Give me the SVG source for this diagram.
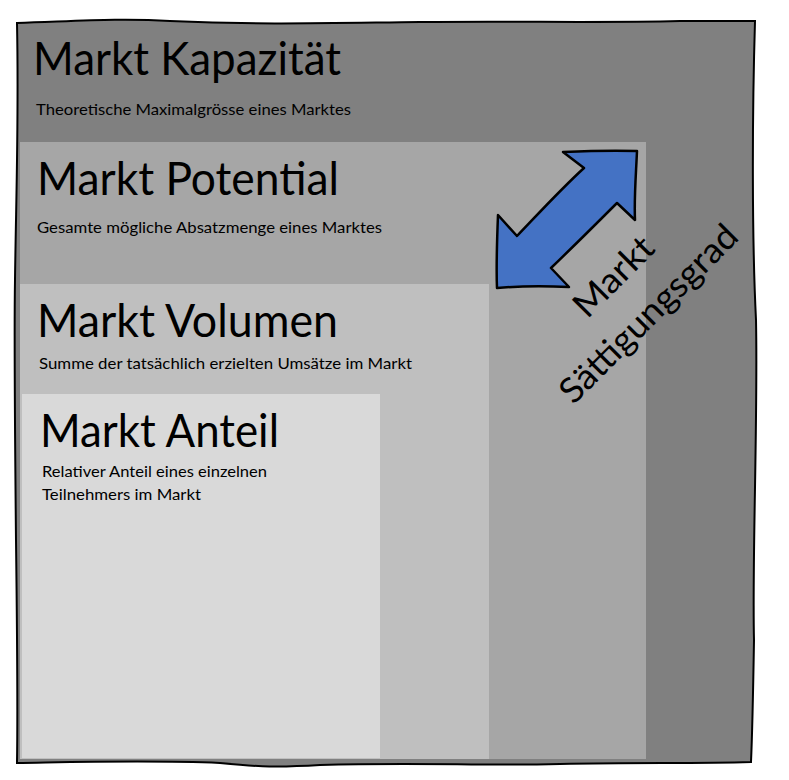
<svg xmlns="http://www.w3.org/2000/svg" width="789" height="780" viewBox="0 0 789 780">
<style>
.t{font-family:Lato,"Open Sans","Liberation Sans",sans-serif;fill:#000}
.h{font-size:46px}
.s{font-size:15px}
.r{font-size:35px}
</style>
<rect width="789" height="780" fill="#fff"/>
<g id="kapazitaet">
<path d="M17,23 C80,21 120,18 170,21 C260,25 330,23 420,22 C520,21 600,23 680,21 L755,21 C752,120 752,240 756,320 C758,420 752,560 754,640 C753,700 752,740 751,762 C690,764 640,762 560,764 C480,766 420,762 320,765 C270,768 250,766 220,763 C150,760 80,762 17,763 C18,700 17,620 16,540 C15,440 14,340 15,280 C16,200 19,120 17,23 Z" fill="#808080" stroke="#000" stroke-width="2"/>
<text class="t h" x="33" y="75" textLength="308" lengthAdjust="spacingAndGlyphs">Markt Kapazität</text>
<text class="t s" x="36" y="115" textLength="315" lengthAdjust="spacingAndGlyphs">Theoretische Maximalgrösse eines Marktes</text>
</g>
<g id="potential">
<rect x="20" y="142" width="626" height="617" fill="#a6a6a6"/>
<text class="t h" x="37" y="195" textLength="302" lengthAdjust="spacingAndGlyphs">Markt Potential</text>
<text class="t s" x="37" y="233" textLength="345" lengthAdjust="spacingAndGlyphs">Gesamte mögliche Absatzmenge eines Marktes</text>
</g>
<g id="volumen">
<rect x="20" y="284" width="469" height="475" fill="#bfbfbf"/>
<text class="t h" x="37" y="337" textLength="301" lengthAdjust="spacingAndGlyphs">Markt Volumen</text>
<text class="t s" x="39" y="369" textLength="373" lengthAdjust="spacingAndGlyphs">Summe der tatsächlich erzielten Umsätze im Markt</text>
</g>
<g id="anteil">
<rect x="22" y="394" width="358" height="364" fill="#d9d9d9"/>
<text class="t h" x="40" y="447" textLength="239" lengthAdjust="spacingAndGlyphs">Markt Anteil</text>
<text class="t s" x="42" y="477" textLength="225" lengthAdjust="spacingAndGlyphs">Relativer Anteil eines einzelnen</text>
<text class="t s" x="42" y="500" textLength="159" lengthAdjust="spacingAndGlyphs">Teilnehmers im Markt</text>
</g>
<g id="saettigungsgrad">
<path d="M637,151 C610,150 585,151 563,152 L584,168 C560,190 540,212 517,236 L498,215 C497,240 496,265 497,288 C520,286 545,286 569,287 L551,268 C575,245 596,224 617,203 L635,220 C634,197 636,175 637,151 Z" fill="#4472c4" stroke="#000" stroke-width="2.5" stroke-linejoin="round"/>
<text class="t r" text-anchor="middle" transform="translate(622,285) rotate(-45)" textLength="98" lengthAdjust="spacingAndGlyphs">Markt</text>
<text class="t r" text-anchor="middle" transform="translate(657,322) rotate(-45)" textLength="236" lengthAdjust="spacingAndGlyphs">Sättigungsgrad</text>
</g>
</svg>
